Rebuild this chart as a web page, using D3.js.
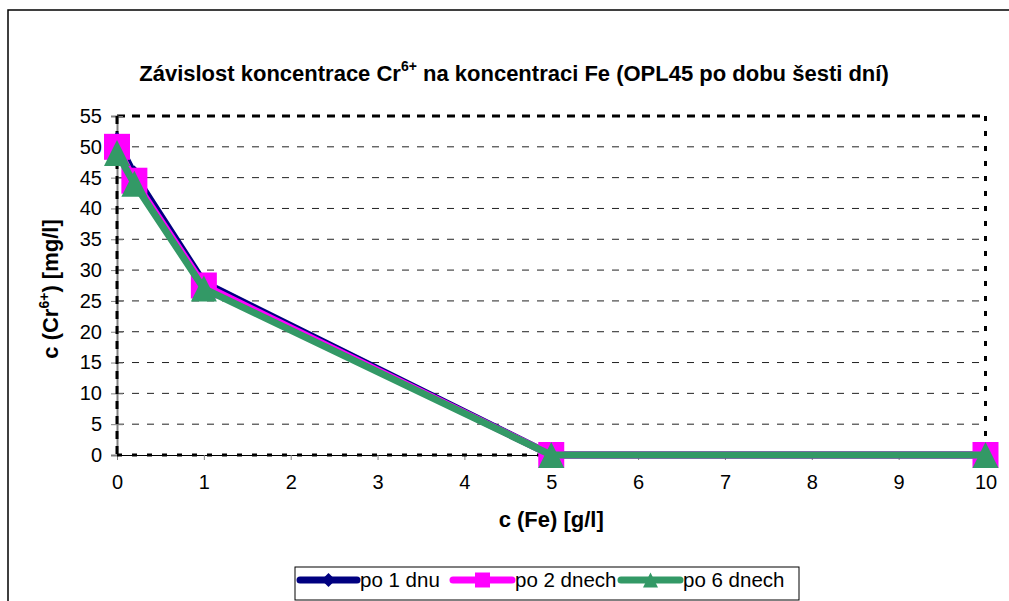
<!DOCTYPE html>
<html><head><meta charset="utf-8">
<script src="https://cdn.jsdelivr.net/npm/d3@7"></script>
<style>
html,body{margin:0;padding:0;background:#fff;overflow:hidden}
svg{display:block;font-family:"Liberation Sans",Arial,sans-serif}
</style></head>
<body>
<script>
// ---- data ----
const feConc = [0, 0.2, 1, 5, 10];
const seriesNames = ["po 1 dnu", "po 2 dnech", "po 6 dnech"];
const after1day = [51, 45.5, 28, 0, 0];
const after2days = [50, 44.5, 27.5, 0, 0];
const after6days = [49, 44, 27, 0, 0];
const xTickValues = [0, 1, 2, 3, 4, 5, 6, 7, 8, 9, 10];
const yTickValues = [0, 5, 10, 15, 20, 25, 30, 35, 40, 45, 50, 55];

const W = 1009, H = 601;
const svg = d3.select("body").append("svg").attr("width", W).attr("height", H);

// outer frame
svg.append("rect").attr("x", 8).attr("y", 10).attr("width", W + 20).attr("height", H + 20)
  .attr("fill", "#fff").attr("stroke", "#000").attr("stroke-width", 1.5);

const L = 117, R = 985.5, T = 116, B = 455;
const x = d3.scaleLinear().domain([0, 10]).range([L, R]);
const y = d3.scaleLinear().domain([0, 55]).range([B, T]);

// gridlines
svg.append("g").selectAll("line").data(yTickValues.filter(v => v > 0 && v < 55)).join("line")
  .attr("x1", L).attr("x2", R).attr("y1", d => y(d)).attr("y2", d => y(d))
  .attr("stroke", "#222").attr("stroke-width", 1).attr("stroke-dasharray", "7,8");

// plot border (top/right) thick dashed
svg.append("line").attr("x1", L).attr("x2", R).attr("y1", y(55)).attr("y2", y(55))
  .attr("stroke", "#000").attr("stroke-width", 3).attr("stroke-dasharray", "8,7");
svg.append("line").attr("x1", R).attr("x2", R).attr("y1", y(55)).attr("y2", y(0))
  .attr("stroke", "#000").attr("stroke-width", 3).attr("stroke-dasharray", "5,10");

// axes
const yAxis = d3.axisLeft(y).tickValues(yTickValues).tickSize(6).tickPadding(8);
const gy = svg.append("g").attr("transform", `translate(${L},0)`).call(yAxis);
gy.select(".domain").attr("stroke", "#808080").attr("stroke-width", 2);
gy.selectAll(".tick line").attr("stroke", "#808080").attr("x2", 6).attr("x1", -6);
gy.selectAll(".tick text").attr("font-size", 20).attr("fill", "#000")
  .attr("font-family", "Liberation Sans, Arial, sans-serif").attr("x", -15);

const xAxis = d3.axisBottom(x).tickValues(xTickValues).tickSize(5).tickPadding(15);
const gx = svg.append("g").attr("transform", `translate(0,${B})`).call(xAxis);
gx.select(".domain").attr("stroke", "#000").attr("stroke-width", 1);
gx.selectAll(".tick line").attr("stroke", "#808080");
gx.selectAll(".tick text").attr("font-size", 20).attr("fill", "#000")
  .attr("font-family", "Liberation Sans, Arial, sans-serif");

// dashed overlay on left/bottom edges
svg.append("line").attr("x1", L).attr("x2", L).attr("y1", y(55)).attr("y2", y(0))
  .attr("stroke", "#000").attr("stroke-width", 3).attr("stroke-dasharray", "8,7");
svg.append("line").attr("x1", L).attr("x2", R).attr("y1", B).attr("y2", B)
  .attr("stroke", "#000").attr("stroke-width", 3).attr("stroke-dasharray", "5,10");

// series
const series = [
  {name: seriesNames[0], vals: after1day, color: "#000080", marker: "diamond"},
  {name: seriesNames[1], vals: after2days, color: "#FF00FF", marker: "square"},
  {name: seriesNames[2], vals: after6days, color: "#339966", marker: "triangle"}
];

function markerPath(type, s) {
  const h = s / 2;
  if (type === "square") return `M${-h},${-h}H${h}V${h}H${-h}Z`;
  if (type === "diamond") return `M0,${-h}L${h},0L0,${h}L${-h},0Z`;
  return `M0,${-h}L${h},${h}L${-h},${h}Z`;
}
const markerSize = {diamond: 18, square: 26, triangle: 26};

const line = d3.line().x(d => x(d[0])).y(d => y(d[1]));
series.forEach(s => {
  const pts = feConc.map((v, i) => [v, s.vals[i]]);
  svg.append("path").datum(pts).attr("d", line).attr("fill", "none")
    .attr("stroke", s.color).attr("stroke-width", 7).attr("stroke-linejoin", "round");
  svg.append("g").selectAll("path").data(pts).join("path")
    .attr("transform", d => `translate(${x(d[0])},${y(d[1])})`)
    .attr("d", markerPath(s.marker, markerSize[s.marker])).attr("fill", s.color);
});

// title
const title = svg.append("text").attr("x", 514).attr("y", 81).attr("text-anchor", "middle")
  .attr("font-size", 22).attr("font-weight", "bold");
title.append("tspan").text("Závislost koncentrace Cr");
title.append("tspan").attr("font-size", 14).attr("dy", -10).text("6+");
title.append("tspan").attr("dy", 10).text(" na koncentraci Fe (OPL45 po dobu šesti dní)");

// axis titles
svg.append("text").attr("x", (L + R) / 2).attr("y", 527).attr("text-anchor", "middle")
  .attr("font-size", 22).attr("font-weight", "bold").text("c (Fe) [g/l]");
const yt = svg.append("text").attr("transform", `translate(58,289) rotate(-90)`)
  .attr("text-anchor", "middle").attr("font-size", 22).attr("font-weight", "bold");
yt.append("tspan").text("c (Cr");
yt.append("tspan").attr("font-size", 14).attr("dy", -9).text("6+");
yt.append("tspan").attr("dy", 9).text(") [mg/l]");

// legend
const lg = svg.append("g");
lg.append("rect").attr("x", 295).attr("y", 567).attr("width", 504).attr("height", 33)
  .attr("fill", "#fff").attr("stroke", "#000").attr("stroke-width", 1);
const lx = [300, 453, 621];
const lw = [57, 59, 59];
const legendMarker = {diamond: 14, square: 15, triangle: 15};
series.forEach((s, i) => {
  const g = lg.append("g");
  g.append("line").attr("x1", lx[i]).attr("x2", lx[i] + lw[i]).attr("y1", 580).attr("y2", 580)
    .attr("stroke", s.color).attr("stroke-width", 7).attr("stroke-linecap", "round");
  g.append("path").attr("transform", `translate(${lx[i] + lw[i] / 2},580)`)
    .attr("d", markerPath(s.marker, legendMarker[s.marker])).attr("fill", s.color);
  g.append("text").attr("x", lx[i] + lw[i] + 3).attr("y", 587).attr("font-size", 20.5).text(s.name);
});
</script>
</body></html>
